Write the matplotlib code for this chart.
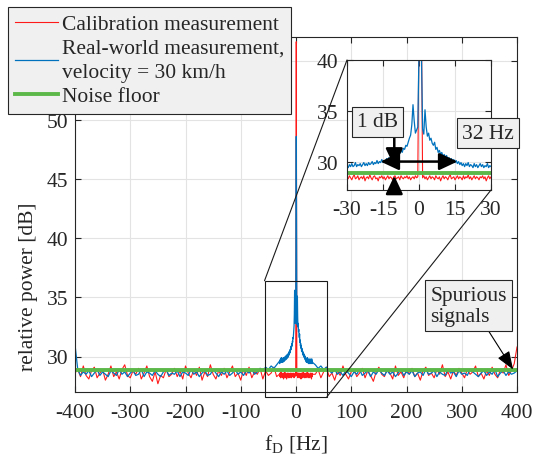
import numpy as np
import matplotlib
matplotlib.use("Agg")
import matplotlib.pyplot as plt
from matplotlib.patches import Rectangle, ConnectionPatch, FancyArrowPatch

plt.rcParams['font.family'] = ['Liberation Serif', 'DejaVu Serif']
plt.rcParams['mathtext.fontset'] = 'custom'
plt.rcParams['mathtext.rm'] = 'Liberation Serif'
plt.rcParams['mathtext.it'] = 'Liberation Serif:italic'
plt.rcParams['axes.unicode_minus'] = False

# ---------------- data ----------------
f_left = np.arange(-400, -30, 5)          # -400 ... -35 Hz
f_center = np.arange(-30, 30.25, 0.5)     # -30 ... 30 Hz
f_right = np.arange(35, 401, 5)           # 35 ... 400 Hz

red_left = [28.6, 28.9, 28.3, 29.2, 28.4, 28.1, 28.8, 29.1, 28.2, 28.6,
            28.9, 28.0, 28.5, 29.2, 28.3, 28.7, 28.1, 28.9, 29.3, 28.4,
            28.2, 28.8, 28.5, 29.0, 28.1, 28.6, 29.2, 28.3, 27.9, 28.7,
            27.7, 28.4, 28.2, 28.9, 28.3, 28.5, 29.0, 28.3, 28.8, 28.1,
            29.2, 28.6, 28.2, 28.9, 28.4, 29.1, 28.0, 28.7, 28.3, 29.3,
            28.5, 28.1, 28.8, 28.4, 29.0, 28.2, 28.7, 29.2, 28.3, 28.6,
            28.0, 28.9, 28.4, 29.1, 28.2, 28.7, 28.5, 29.0, 28.1, 28.8,
            28.4, 28.6, 29.1, 28.3]
red_center = [28.5, 28.3, 28.6, 28.4, 28.2, 28.5, 28.7, 28.3, 28.4, 28.6,
              28.2, 28.4, 28.5, 28.3, 28.6, 28.1, 28.4, 28.5, 28.3, 28.7,
              28.4, 28.2, 28.5, 28.6, 28.3, 28.4, 28.1, 28.5, 28.4, 28.6,
              28.3, 28.5, 28.2, 28.4, 28.6, 28.3, 28.5, 28.4, 28.2, 28.5,
              28.6, 28.3, 28.4, 28.5, 28.2, 28.6, 28.4, 28.3, 28.5, 28.4,
              28.6, 28.3, 28.5, 28.2, 28.4, 28.5, 28.3, 28.6, 28.4, 28.5,
              44.0, 56.6, 44.0, 28.4, 28.6, 28.3, 28.5, 28.2, 28.4, 28.6,
              28.3, 28.5, 28.4, 28.2, 28.6, 28.4, 28.3, 28.5, 28.1, 28.4,
              28.6, 28.3, 28.5, 28.4, 28.2, 28.5, 28.7, 28.3, 28.4, 28.5,
              28.2, 28.4, 28.6, 28.3, 28.5, 28.4, 28.2, 28.6, 28.3, 28.5,
              28.4, 28.7, 28.3, 28.5, 28.2, 28.4, 28.6, 28.3, 28.5, 28.4,
              28.2, 28.5, 28.4, 28.6, 28.3, 28.5, 28.1, 28.4, 28.6, 28.3,
              28.5]
red_right = [28.5, 28.9, 28.2, 28.7, 29.1, 28.3, 28.6, 28.0, 28.8, 28.4,
             29.2, 28.5, 28.1, 28.7, 28.9, 28.3, 28.6, 29.0, 28.2, 28.8,
             28.4, 27.9, 28.7, 29.1, 28.5, 28.3, 28.9, 28.6, 28.1, 29.2,
             28.4, 28.7, 28.2, 28.9, 28.5, 29.0, 28.3, 28.6, 28.0, 28.8,
             29.1, 28.4, 28.6, 28.2, 28.9, 28.5, 29.3, 28.3, 28.7, 28.1,
             28.8, 28.4, 29.0, 28.6, 28.2, 28.9, 28.5, 28.7, 29.2, 28.3,
             28.6, 28.1, 28.8, 28.4, 29.1, 28.5, 28.2, 28.9, 28.6, 29.3,
             28.4, 28.8, 29.4, 30.8]

blue_left = [31.0, 28.9, 28.4, 28.7, 28.5, 28.8, 28.3, 28.6, 28.9, 28.4,
             28.7, 28.5, 28.3, 28.8, 28.6, 28.4, 28.9, 28.5, 28.7, 28.3,
             28.6, 28.8, 28.4, 28.5, 28.9, 28.3, 28.7, 28.6, 28.4, 28.8,
             28.5, 28.3, 28.7, 28.9, 28.4, 28.6, 28.5, 28.8, 28.3, 28.7,
             28.6, 28.4, 28.9, 28.5, 28.7, 28.3, 28.6, 28.8, 28.4, 28.5,
             28.9, 28.6, 28.3, 28.7, 28.5, 28.8, 28.4, 28.6, 28.9, 28.5,
             28.7, 28.4, 28.8, 28.6, 28.9, 28.5, 28.7, 29.0, 28.8, 29.1,
             28.9, 29.2, 29.0, 29.3]
blue_center = [29.6, 29.4, 29.7, 29.5, 29.8, 29.5, 29.6, 29.9, 29.5, 29.7,
               29.6, 29.8, 29.5, 29.7, 29.9, 29.6, 29.8, 29.6, 29.9, 29.7,
               29.8, 30.0, 29.7, 29.9, 29.8, 30.1, 29.8, 30.0, 29.9, 30.2,
               29.9, 30.1, 30.0, 30.3, 30.1, 30.4, 30.2, 30.5, 30.3, 30.6,
               30.5, 30.8, 30.6, 30.9, 30.8, 31.1, 30.9, 31.3, 31.2, 31.6,
               31.5, 31.9, 32.3, 32.6, 33.6, 35.6, 34.0, 32.8, 33.1, 33.4,
               41.0, 48.6, 41.0, 33.2, 32.7, 35.1, 33.4, 32.5, 32.8, 32.1,
               32.3, 31.8, 31.6, 31.9, 31.2, 31.4, 30.9, 31.1, 30.7, 30.9,
               30.5, 30.7, 30.4, 30.6, 30.2, 30.4, 30.1, 30.3, 30.0, 30.2,
               29.9, 30.1, 29.8, 30.0, 29.7, 29.9, 29.6, 29.8, 29.5, 29.8,
               29.6, 29.9, 29.5, 29.7, 29.6, 29.4, 29.8, 29.5, 29.7, 29.4,
               29.6, 29.8, 29.5, 29.7, 29.4, 29.6, 29.5, 29.8, 29.4, 29.6,
               29.5]
blue_right = [29.3, 29.0, 29.2, 28.9, 29.1, 28.8, 28.6, 28.9, 28.5, 28.7,
              28.4, 28.8, 28.6, 28.3, 28.7, 28.5, 28.9, 28.4, 28.6, 28.8,
              28.3, 28.7, 28.5, 28.9, 28.6, 28.4, 28.8, 28.5, 28.7, 28.3,
              28.6, 28.9, 28.4, 28.7, 28.5, 28.8, 28.3, 28.6, 28.7, 28.4,
              28.9, 28.5, 28.6, 28.8, 28.3, 28.7, 28.5, 28.4, 28.9, 28.6,
              28.7, 28.3, 28.8, 28.5, 28.6, 28.4, 28.9, 28.7, 28.5, 28.3,
              28.6, 28.8, 28.4, 28.7, 28.5, 28.9, 28.3, 28.6, 28.8, 28.4,
              28.7, 28.5, 28.6, 28.8]

noise_floor_level = 28.9
noise_floor_f = [-400, 400]

main_xticks = [-400, -300, -200, -100, 0, 100, 200, 300, 400]
main_yticks = [30, 35, 40, 45, 50, 55]
main_yticklabels = ['30', '35', '40', '45', '50', '']   # 55 hidden by legend
inset_xticks = [-30, -15, 0, 15, 30]
inset_yticks = [30, 35, 40]

legend_labels = ['Calibration measurement',
                 'Real-world measurement,\nvelocity = 30 km/h',
                 'Noise floor']

# ---------------- styling ----------------
RED = '#ff1a1a'
BLUE = '#0072BD'
GREEN = '#5cb848'
AX_COL = '#262626'
GRID_COL = '#e3e3e3'
BOX_FC = '#f0f0f0'
FS = 15.5

f = np.concatenate([f_left, f_center, f_right])
red = np.concatenate([red_left, red_center, red_right])
blue = np.concatenate([blue_left, blue_center, blue_right])

fig = plt.figure(figsize=(5.34, 4.56), dpi=100)
W, H = 534, 456
ax = fig.add_axes([75 / W, 63 / H, 442 / W, 355 / H])


def style_axes(a, xpad, ypad):
    for s in a.spines.values():
        s.set_color(AX_COL)
        s.set_linewidth(0.8)
    a.tick_params(direction='in', top=True, right=True, length=4,
                  width=0.8, color=AX_COL, labelcolor=AX_COL,
                  labelsize=FS)
    a.tick_params(axis='x', pad=xpad)
    a.tick_params(axis='y', pad=ypad)
    a.grid(True, color=GRID_COL, linewidth=0.8)
    a.set_axisbelow(True)


l_red, = ax.plot(f, red, color=RED, lw=0.8)
l_blue, = ax.plot(f, blue, color=BLUE, lw=0.9)
l_green, = ax.plot(noise_floor_f, [noise_floor_level] * 2, color=GREEN, lw=2.8)
ax.set_xlim(-400, 400)
ax.set_ylim(27, 57)
ax.set_xticks(main_xticks)
ax.set_yticks(main_yticks)
ax.set_yticklabels(main_yticklabels)
style_axes(ax, 8, 5)

ax.set_ylabel('relative power [dB]', fontsize=FS, color=AX_COL)
ax.yaxis.set_label_coords(-0.083, 0.30)
ax.set_xlabel('$\\mathrm{f_D}$ [Hz]', fontsize=FS, color=AX_COL)
ax.xaxis.set_label_coords(0.5, -0.112)
ax.xaxis.label.set_va('top')

# zoom rectangle
rx0, rx1, ry0, ry1 = -57, 56, 26.6, 36.4
rect = Rectangle((rx0, ry0), rx1 - rx0, ry1 - ry0, fill=False,
                 ec='#1a1a1a', lw=0.8, clip_on=False, zorder=5)
ax.add_patch(rect)

# inset
axins = fig.add_axes([347 / W, (H - 191) / H, 144 / W, 130 / H])
axins.plot(f, red, color=RED, lw=0.8)
axins.plot(f, blue, color=BLUE, lw=0.9)
axins.plot(noise_floor_f, [noise_floor_level] * 2, color=GREEN, lw=2.8)
axins.set_xlim(-30, 30)
axins.set_ylim(27.2, 40)
axins.set_xticks(inset_xticks)
axins.set_yticks(inset_yticks)
style_axes(axins, 7, 6)
axins.set_facecolor('white')

# connection lines
for xyA, xyB in [((rx0, ry1), (0, 1)), ((rx1, ry0), (1, 0))]:
    con = ConnectionPatch(xyA=xyA, coordsA=ax.transData,
                          xyB=xyB, coordsB=axins.transAxes,
                          color='#1a1a1a', lw=0.8, zorder=4)
    fig.add_artist(con)

# inset annotations
arr = FancyArrowPatch((-16, 30.0), (16, 30.0),
                      arrowstyle='<|-|>,head_length=0.85,head_width=0.4',
                      color='k', lw=1.8, shrinkA=0, shrinkB=0,
                      mutation_scale=13, zorder=6)
axins.add_patch(arr)
arr2 = FancyArrowPatch((-10.3, 32.4), (-10.3, 29.5),
                       arrowstyle='-|>,head_length=0.85,head_width=0.4',
                       color='k', lw=1.8, shrinkA=0, shrinkB=0,
                       mutation_scale=13, zorder=6, clip_on=False)
axins.add_patch(arr2)
arr3 = FancyArrowPatch((-10.3, 27.1), (-10.3, 28.6),
                       arrowstyle='-|>,head_length=0.85,head_width=0.4',
                       color='k', lw=1.8, shrinkA=0, shrinkB=0,
                       mutation_scale=13, zorder=6, clip_on=False)
axins.add_patch(arr3)

bbox_kw = dict(boxstyle='square,pad=0.25', fc=BOX_FC, ec=AX_COL, lw=0.8)
axins.text(-17.3, 33.9, '1 dB', fontsize=FS, color=AX_COL, ha='center',
           va='center', bbox=bbox_kw, zorder=7, clip_on=False)
axins.text(28.8, 32.8, '32 Hz', fontsize=FS, color=AX_COL, ha='center',
           va='center', bbox=bbox_kw, zorder=7, clip_on=False)

# spurious annotation
ax.annotate('Spurious\nsignals', xy=(392.9, 28.9), xytext=(312, 34.3),
            fontsize=FS, color=AX_COL, ha='center', va='center',
            multialignment='left', linespacing=1.15,
            bbox=dict(boxstyle='square,pad=0.25', fc=BOX_FC, ec=AX_COL, lw=0.8),
            arrowprops=dict(arrowstyle='-|>,head_length=0.8,head_width=0.3',
                            color='k', lw=0.8, shrinkA=0, shrinkB=0,
                            mutation_scale=14, relpos=(0.72, 0.0)),
            zorder=7)

# legend
leg = ax.legend([l_red, l_blue, l_green], legend_labels, loc='upper left',
                bbox_to_anchor=(8 / W, 1 - 8 / H),
                bbox_transform=fig.transFigure, fontsize=FS,
                frameon=True, fancybox=False, framealpha=1,
                edgecolor=AX_COL, facecolor=BOX_FC, borderpad=0.34,
                handlelength=2.0, handletextpad=0.15, labelspacing=0.2,
                borderaxespad=0)
leg.get_frame().set_linewidth(0.8)
for t in leg.get_texts():
    t.set_color(AX_COL)
    t.set_linespacing(1.38)
leg.set_zorder(10)

fig.savefig('out.png', dpi=100)
